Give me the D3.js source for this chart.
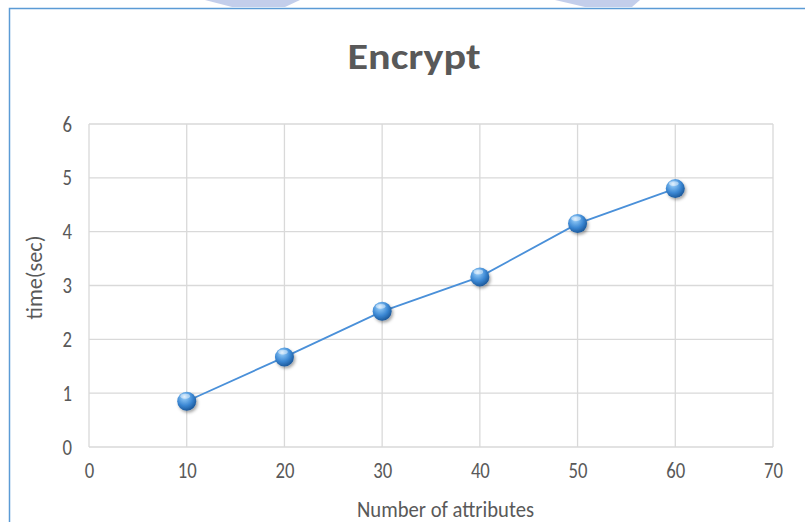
<!DOCTYPE html>
<html><head><meta charset="utf-8">
<script src="https://cdn.jsdelivr.net/npm/d3@7"></script>
<style>body{margin:0;background:#fff}svg{display:block}</style>
</head><body>
<svg id="chart" width="806" height="522"></svg>
<script>
const xValues = [10, 20, 30, 40, 50, 60];
const yValues = [0.85, 1.67, 2.52, 3.16, 4.15, 4.80];
const xTicks = [0, 10, 20, 30, 40, 50, 60, 70];
const yTicks = [0, 1, 2, 3, 4, 5, 6];
const title = "Encrypt";
const xTitle = "Number of attributes";
const yTitle = "time(sec)";

const svg = d3.select("#chart");
const font = "Carlito, Lato, 'Open Sans', sans-serif";
const textCol = "#595959";

svg.append("path").attr("d","M205,0 L300,0 L285,7 L232,7 Z").attr("fill","#b4c2e6").attr("opacity",0.8);
svg.append("path").attr("d","M555,0 L640,0 L632,7 L585,7 Z").attr("fill","#b4c2e6").attr("opacity",0.8);

svg.append("path").attr("d","M9.5,530 L9.5,8.5 L805,8.5")
  .attr("fill","none").attr("stroke","#5b9bd5").attr("stroke-width",1.5);

const x = d3.scaleLinear().domain([0,70]).range([89,773]);
const y = d3.scaleLinear().domain([0,6]).range([447,124]);

const g = svg.append("g");
g.selectAll(".vg").data(xTicks).join("line")
  .attr("x1",d=>x(d)).attr("x2",d=>x(d)).attr("y1",y(0)).attr("y2",y(6))
  .attr("stroke","#d9d9d9").attr("stroke-width",1.3);
g.selectAll(".hg").data(yTicks).join("line")
  .attr("y1",d=>y(d)).attr("y2",d=>y(d)).attr("x1",x(0)).attr("x2",x(70))
  .attr("stroke","#d9d9d9").attr("stroke-width",1.3);

const xAxis = svg.append("g").attr("transform",`translate(0,${y(0)+13})`)
  .call(d3.axisBottom(x).tickValues(xTicks).tickFormat(d3.format("d")).tickSize(0).tickPadding(0));
xAxis.select(".domain").remove();
xAxis.selectAll("text").attr("font-family",font).attr("font-size",22).attr("fill",textCol)
  .attr("dy","0.8em").attr("transform","scale(0.85,1)");

const yAxis = svg.append("g").attr("transform",`translate(${x(0)-17},0)`)
  .call(d3.axisLeft(y).tickValues(yTicks).tickFormat(d3.format("d")).tickSize(0).tickPadding(0));
yAxis.select(".domain").remove();
yAxis.selectAll("text").attr("font-family",font).attr("font-size",22).attr("fill",textCol)
  .attr("transform","scale(0.85,1)");

svg.append("text").attr("x",414).attr("y",69).attr("text-anchor","middle")
  .attr("font-family",font).attr("font-weight","bold").attr("font-size",36).attr("fill",textCol)
  .attr("textLength",133).attr("lengthAdjust","spacingAndGlyphs").text(title);
svg.append("text").attr("x",445.5).attr("y",517).attr("text-anchor","middle")
  .attr("font-family",font).attr("font-size",22).attr("fill",textCol)
  .attr("textLength",177).attr("lengthAdjust","spacingAndGlyphs").text(xTitle);
svg.append("text").attr("transform",`translate(42,${(y(0)+y(6))/2 - 8}) rotate(-90)`).attr("text-anchor","middle")
  .attr("font-family",font).attr("font-size",22).attr("fill",textCol)
  .attr("textLength",84).attr("lengthAdjust","spacingAndGlyphs").text(yTitle);

const defs = svg.append("defs");
const rg = defs.append("radialGradient").attr("id","ball").attr("cx","40%").attr("cy","35%").attr("r","65%").attr("fx","38%").attr("fy","25%");
rg.append("stop").attr("offset","0%").attr("stop-color","#c9e4fb");
rg.append("stop").attr("offset","25%").attr("stop-color","#7ab8ee");
rg.append("stop").attr("offset","65%").attr("stop-color","#3a86d2");
rg.append("stop").attr("offset","100%").attr("stop-color","#1d5a9c");
const f = defs.append("filter").attr("id","sh").attr("x","-50%").attr("y","-50%").attr("width","200%").attr("height","200%");
f.append("feDropShadow").attr("dx",1.5).attr("dy",2).attr("stdDeviation",1.5).attr("flood-color","#000").attr("flood-opacity",0.35);

const data = xValues.map((v,i)=>({x:v,y:yValues[i]}));
svg.append("path").datum(data)
  .attr("d", d3.line().x(d=>x(d.x)).y(d=>y(d.y)))
  .attr("fill","none").attr("stroke","#4a90d9").attr("stroke-width",1.8);

const pts = svg.selectAll(".pt").data(data).join("g").attr("transform",d=>`translate(${x(d.x)},${y(d.y)})`);
pts.append("circle").attr("r",9.5).attr("fill","url(#ball)").attr("filter","url(#sh)");
pts.append("ellipse").attr("cx",-1.5).attr("cy",-5).attr("rx",4.8).attr("ry",2.4).attr("fill","#fff").attr("opacity",0.45);
</script>
</body></html>
